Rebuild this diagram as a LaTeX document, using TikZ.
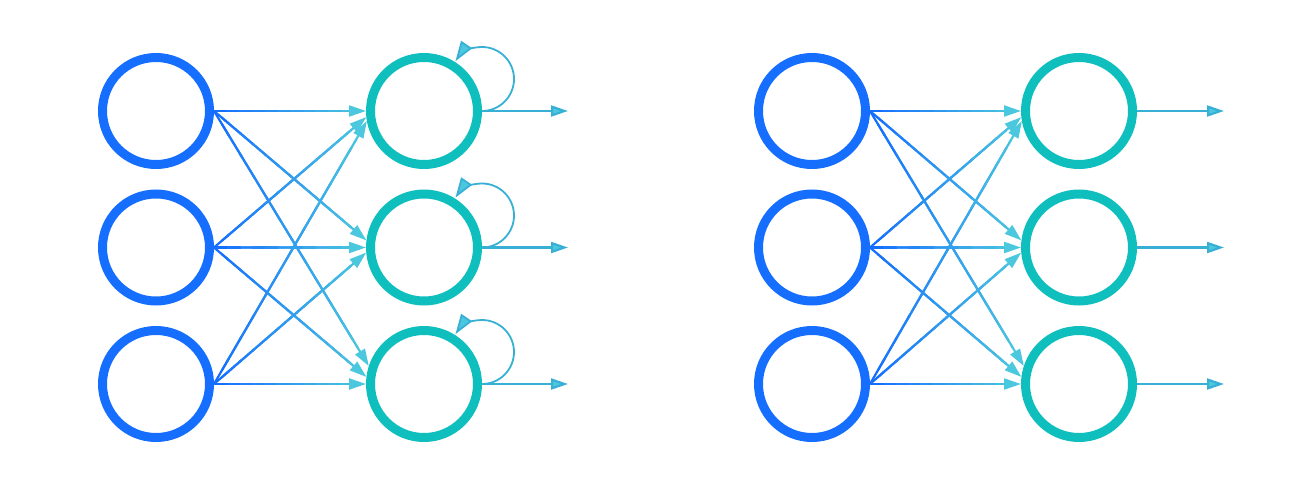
\documentclass[tikz,border=0pt]{standalone}
\usetikzlibrary{arrows.meta,calc}
\definecolor{inblue}{HTML}{166EFF}
\definecolor{outteal}{HTML}{0EBFBD}
\definecolor{arrcyan}{HTML}{4BC8DE}
\definecolor{outline}{HTML}{38B0D6}
\tikzset{
  neuron/.style={circle, line width=9pt, minimum size=107pt, inner sep=0pt},
  innode/.style={neuron, draw=inblue},
  outnode/.style={neuron, draw=outteal},
  tiphead/.style={-{Triangle[length=17pt,width=11pt,fill=arrcyan]}},
  bigtip/.style={-{Triangle[length=20pt,width=13pt,fill=arrcyan]}},
  conn/.style={line width=2.2pt},
  outarr/.style={line width=2.2pt, draw=outline, tiphead},
  looparr/.style={line width=1.8pt, draw=outline, bigtip},
}
\newcommand\gline[2]{%
  \draw[conn, draw=inblue!45!arrcyan] ($(#1)!0.05!(#2)$) -- ($(#1)!0.9!(#2)$);
  \foreach \k in {0,...,11}{%
    \pgfmathtruncatemacro\pct{100-100*\k/11}%
    \pgfmathsetmacro\fa{\k/12}%
    \pgfmathsetmacro\fb{(\k+1.15)/12}%
    \ifnum\k=11
      \draw[conn, draw=inblue!\pct!arrcyan, tiphead] ($(#1)!\fa!(#2)$) -- (#2);
    \else
      \draw[conn, draw=inblue!\pct!arrcyan] ($(#1)!\fa!(#2)$) -- ($(#1)!\fb!(#2)$);
    \fi}}
\begin{document}
\begin{tikzpicture}[x=1pt,y=-1pt]
\useasboundingbox (0,0) rectangle (1310,479);
% left panel
\node[innode] (a1) at (156,111) {};
\node[innode] (a2) at (156,247.5) {};
\node[innode] (a3) at (156,384) {};
\node[outnode] (b1) at (424,111) {};
\node[outnode] (b2) at (424,247.5) {};
\node[outnode] (b3) at (424,384) {};
% right panel
\node[innode] (c1) at (812,111) {};
\node[innode] (c2) at (812,247.5) {};
\node[innode] (c3) at (812,384) {};
\node[outnode] (d1) at (1079,111) {};
\node[outnode] (d2) at (1079,247.5) {};
\node[outnode] (d3) at (1079,384) {};
% connections left
\gline{a1.east}{b1.180}
\gline{a1.east}{b2.173}
\gline{a1.east}{b3.162}
\gline{a2.east}{b1.186}
\gline{a2.east}{b2.180}
\gline{a2.east}{b3.173}
\gline{a3.east}{b1.190}
\gline{a3.east}{b2.185}
\gline{a3.east}{b3.180}
% connections right
\gline{c1.east}{d1.180}
\gline{c1.east}{d2.173}
\gline{c1.east}{d3.162}
\gline{c2.east}{d1.186}
\gline{c2.east}{d2.180}
\gline{c2.east}{d3.173}
\gline{c3.east}{d1.190}
\gline{c3.east}{d2.185}
\gline{c3.east}{d3.180}
% outputs
\coordinate (e1) at (568,111);
\coordinate (e2) at (568,247.5);
\coordinate (e3) at (568,384);
\coordinate (f1) at (1224,111);
\coordinate (f2) at (1224,247.5);
\coordinate (f3) at (1224,384);
\draw[outarr] (b1.east) -- (e1);
\draw[outarr] (b2.east) -- (e2);
\draw[outarr] (b3.east) -- (e3);
\draw[outarr] (d1.east) -- (f1);
\draw[outarr] (d2.east) -- (f2);
\draw[outarr] (d3.east) -- (f3);
% self loops
\draw[looparr] (b1.east) arc[start angle=90, end angle=-146, radius=32];
\draw[looparr] (b2.east) arc[start angle=90, end angle=-146, radius=32];
\draw[looparr] (b3.east) arc[start angle=90, end angle=-146, radius=32];
\end{tikzpicture}
\end{document}
